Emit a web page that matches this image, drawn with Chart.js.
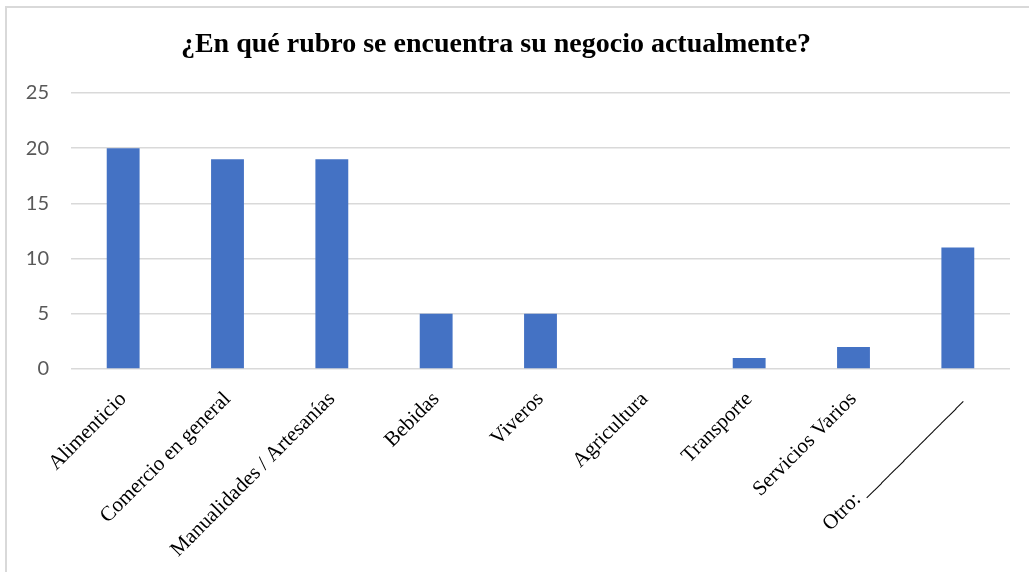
<!DOCTYPE html>
<html lang="es">
<head>
<meta charset="utf-8">
<title>Rubro del negocio</title>
<script src="https://cdn.jsdelivr.net/npm/chart.js@4.4.1/dist/chart.umd.min.js"></script>
<style>
    html, body {
        margin: 0;
        padding: 0;
        background: #ffffff;
        overflow: hidden;
    }
    /* outer chart frame, cut off on the right and bottom */
    .frame {
        position: absolute;
        left: 5px;
        top: 6px;
        width: 1100px;
        height: 700px;
        border: 2px solid #d9d9d9;
        box-sizing: border-box;
    }
    #rubroChart {
        position: absolute;
        left: 0;
        top: 0;
    }
</style>
</head>
<body>
<div class="frame"></div>
<canvas id="rubroChart" width="1029" height="572"></canvas>

<script>
// Survey answers per business sector
const categories = [
    'Alimenticio',
    'Comercio en general',
    'Manualidades / Artesanías',
    'Bebidas',
    'Viveros',
    'Agricultura',
    'Transporte',
    'Servicios Varios',
    'Otro: _____________'
];
const values = [20, 19, 19, 5, 5, 0, 1, 2, 11];

// Value axis
const yMin = 0;
const yMax = 25;
const yStep = 5;

const chartTitle = '¿En qué rubro se encuentra su negocio actualmente?';

// Title drawn by hand so it can sit a little left of centre
const titlePlugin = {
    id: 'sideTitle',
    afterDraw(chart, args, opts) {
        const ctx = chart.ctx;
        ctx.save();
        ctx.font = opts.font;
        ctx.fillStyle = opts.color;
        ctx.textAlign = 'center';
        ctx.textBaseline = 'alphabetic';
        ctx.fillText(opts.text, opts.x, opts.y);
        ctx.restore();
    }
};

document.addEventListener('DOMContentLoaded', function() {
    const ctx = document.getElementById('rubroChart');

    new Chart(ctx, {
        type: 'bar',
        data: {
            labels: categories,
            datasets: [{
                label: 'Respuestas',
                data: values,
                backgroundColor: '#4472c4',
                borderWidth: 0,
                categoryPercentage: 1.0,
                barPercentage: 0.315
            }]
        },
        options: {
            responsive: false,
            animation: false,
            layout: {
                padding: { top: 93, right: 19, bottom: 0, left: 0 }
            },
            plugins: {
                legend: { display: false },
                tooltip: { enabled: false },
                title: { display: false },
                sideTitle: {
                    text: chartTitle,
                    font: 'bold 28px "Liberation Serif", "Times New Roman", serif',
                    color: '#000000',
                    x: 496,
                    y: 52
                }
            },
            scales: {
                x: {
                    grid: { display: false },
                    border: { display: false },
                    ticks: {
                        autoSkip: false,
                        maxRotation: 45,
                        minRotation: 45,
                        padding: 10,
                        color: '#000000',
                        font: {
                            family: '"Liberation Serif", "Times New Roman", serif',
                            size: 21
                        }
                    },
                    afterFit: function(scale) {
                        scale.height = 203;
                    }
                },
                y: {
                    min: yMin,
                    max: yMax,
                    border: { display: false },
                    grid: {
                        color: '#d9d9d9',
                        lineWidth: 1.5,
                        drawTicks: false,
                        tickLength: 0
                    },
                    ticks: {
                        stepSize: yStep,
                        padding: 22,
                        color: '#595959',
                        font: {
                            family: 'Lato, "Open Sans", sans-serif',
                            size: 20
                        }
                    },
                    afterFit: function(scale) {
                        scale.width = 71;
                    }
                }
            }
        },
        plugins: [titlePlugin]
    });
});
</script>
</body>
</html>
